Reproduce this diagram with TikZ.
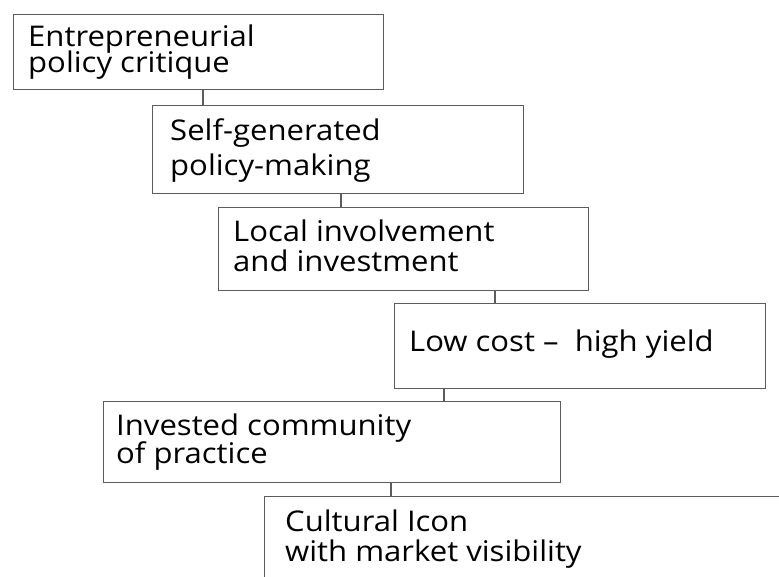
\documentclass[tikz,border=0pt]{standalone}
\usepackage{fontspec}
\setmainfont{Open Sans}[FakeStretch=1.09]
% two stacked lines whose baselines are #1 apart; the box baseline is the first line's
\newcommand{\twolines}[3]{\vtop{\baselineskip=#1\lineskiplimit=-\maxdimen\hbox{#2}\hbox{#3}}}
\begin{document}
\begin{tikzpicture}[x=1pt,y=-1pt,
  stepbox/.style={draw=black!64,line width=1.3pt,fill=white,inner sep=0pt,anchor=north west},
  steptext/.style={anchor=base west,inner sep=0pt,text=black,font=\fontsize{28.5}{30}\selectfont},
  link/.style={draw=black!64,line width=1.3pt}]
\useasboundingbox (0,0) rectangle (779,577);
\clip (0,0) rectangle (779,577);
\fill[white] (0,0) rectangle (779,577);

% boxes
\node[stepbox,minimum width=370pt,minimum height=75pt] (b1) at (13,14) {};
\node[stepbox,minimum width=371pt,minimum height=88pt] (b2) at (152,105) {};
\node[stepbox,minimum width=370pt,minimum height=83pt] (b3) at (218,207) {};
\node[stepbox,minimum width=371pt,minimum height=85pt] (b4) at (394,303) {};
\node[stepbox,minimum width=457pt,minimum height=81pt] (b5) at (103,401) {};
\node[stepbox,minimum width=540pt,minimum height=110pt] (b6) at (264,496) {};

% labels
\node[steptext] (t1) at (28,47) {\twolines{26pt}{Entrepreneurial}{policy critique}};
\node[steptext] (t2) at (170,140.5) {\twolines{35pt}{Self-generated}{policy-making}};
\node[steptext] (t3) at (233,241.7) {\twolines{30pt}{Local involvement}{and investment}};
\node[steptext] (t4) at (409,351) {Low cost --\ \ high yield};
\node[steptext] (t5) at (116,435) {\twolines{28pt}{Invested community}{of practice}};
\node[steptext] (t6) at (285,531.7) {\twolines{30pt}{Cultural Icon}{with market visibility}};

% vertical links between consecutive boxes
\coordinate (x1) at (203,0);
\coordinate (x2) at (341,0);
\coordinate (x3) at (495,0);
\coordinate (x4) at (444,0);
\coordinate (x5) at (391,0);
\draw[link] (b1.south -| x1) -- (b2.north -| x1);
\draw[link] (b2.south -| x2) -- (b3.north -| x2);
\draw[link] (b3.south -| x3) -- (b4.north -| x3);
\draw[link] (b4.south -| x4) -- (b5.north -| x4);
\draw[link] (b5.south -| x5) -- (b6.north -| x5);
\end{tikzpicture}
\end{document}
